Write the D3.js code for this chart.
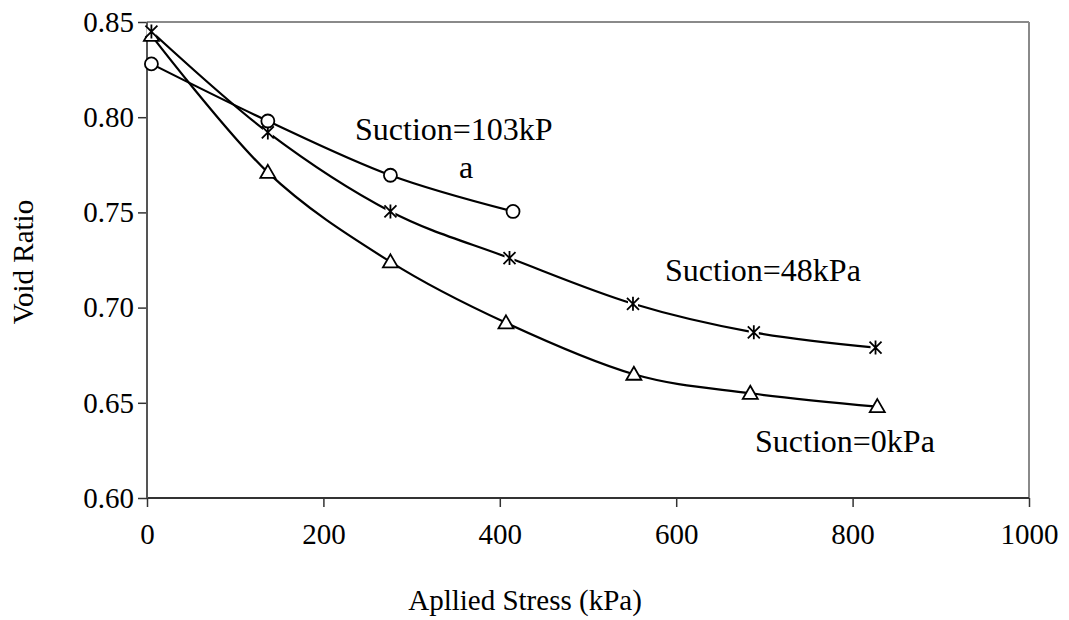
<!DOCTYPE html>
<html lang="en">

<head>
    <meta charset="UTF-8">
    <title>Void Ratio vs Applied Stress</title>
    <style>
        body {
            margin: 0;
            overflow: hidden;
            background: #fff;
        }

        svg {
            display: block;
        }

        svg text {
            font-family: "Liberation Serif", "Times New Roman", Times, "DejaVu Serif", serif !important;
            fill: black;
        }
    </style>
</head>

<body>
    <svg></svg>

    <script src="https://d3js.org/d3.v7.min.js"></script>
    <script>
        const width = 1069;
        const height = 620;
        const serif = '"Liberation Serif", "Times New Roman", Times, "DejaVu Serif", serif';

        // data (stress in kPa, void ratio)
        const stress0 = [5, 137, 276, 407, 552, 684, 828];
        const ratio0 = [0.843, 0.771, 0.724, 0.692, 0.665, 0.655, 0.648];

        const stress48 = [5, 137, 276, 411, 551, 688, 826];
        const ratio48 = [0.845, 0.792, 0.7505, 0.726, 0.702, 0.687, 0.679];

        const stress103 = [5, 137, 276, 415];
        const ratio103 = [0.828, 0.798, 0.7695, 0.7505];

        const xTicks = [0, 200, 400, 600, 800, 1000];
        const yTicks = [0.60, 0.65, 0.70, 0.75, 0.80, 0.85];

        const series = [
            { name: "Suction=0kPa", marker: "triangle", xs: stress0, ys: ratio0 },
            { name: "Suction=48kPa", marker: "star", xs: stress48, ys: ratio48 },
            { name: "Suction=103kPa", marker: "circle", xs: stress103, ys: ratio103 }
        ];

        const svg = d3.select("svg")
            .attr("width", width)
            .attr("height", height)
            .attr("font-family", serif);

        const x = d3.scaleLinear().domain([0, 1000]).range([147, 1029]);
        const y = d3.scaleLinear().domain([0.60, 0.85]).range([498, 22]);

        // frame: top and right in gray
        svg.append("line")
            .attr("x1", x(0)).attr("x2", x(1000))
            .attr("y1", y(0.85)).attr("y2", y(0.85))
            .attr("stroke", "#8a8a8a").attr("stroke-width", 2);
        svg.append("line")
            .attr("x1", x(1000)).attr("x2", x(1000))
            .attr("y1", y(0.85)).attr("y2", y(0.60))
            .attr("stroke", "#8a8a8a").attr("stroke-width", 2);

        // axes
        const xAxis = svg.append("g")
            .attr("transform", `translate(0,${y(0.60)})`)
            .call(d3.axisBottom(x).tickValues(xTicks).tickFormat(d3.format("d")).tickSize(9).tickPadding(16));

        const yAxis = svg.append("g")
            .attr("transform", `translate(${x(0)},0)`)
            .call(d3.axisLeft(y).tickValues(yTicks).tickFormat(d3.format(".2f")).tickSize(9).tickPadding(4));

        [xAxis, yAxis].forEach(g => {
            g.attr("font-family", serif).attr("font-size", 29);
            g.select(".domain").remove();
            g.selectAll(".tick line").attr("stroke", "#333").attr("stroke-width", 1.5);
            g.selectAll(".tick text")
                .style("font-family", serif)
                .style("font-size", "29px")
                .attr("fill", "black");
        });

        svg.append("line")
            .attr("x1", x(0)).attr("x2", x(1000))
            .attr("y1", y(0.60)).attr("y2", y(0.60))
            .attr("stroke", "#333").attr("stroke-width", 2);
        svg.append("line")
            .attr("x1", x(0)).attr("x2", x(0))
            .attr("y1", y(0.85)).attr("y2", y(0.60))
            .attr("stroke", "#555").attr("stroke-width", 2);

        // smoothed lines
        const line = d3.line()
            .x(d => x(d[0]))
            .y(d => y(d[1]))
            .curve(d3.curveCatmullRom.alpha(0));

        series.forEach(s => {
            const pts = s.xs.map((v, i) => [v, s.ys[i]]);
            svg.append("path")
                .datum(pts)
                .attr("fill", "none")
                .attr("stroke", "black")
                .attr("stroke-width", 2.2)
                .attr("d", line);
        });

        // markers
        const markerPath = {
            triangle: "M0,-7.5 L7.5,5.5 L-7.5,5.5 Z",
            star: "M0,-7 L0,7 M-6,-6 L6,6 M-6,6 L6,-6"
        };

        series.forEach(s => {
            const pts = s.xs.map((v, i) => [v, s.ys[i]]);
            const g = svg.append("g");
            if (s.marker === "circle") {
                g.selectAll("circle")
                    .data(pts)
                    .join("circle")
                    .attr("cx", d => x(d[0]))
                    .attr("cy", d => y(d[1]))
                    .attr("r", 6.5)
                    .attr("fill", "white")
                    .attr("stroke", "black")
                    .attr("stroke-width", 1.8);
            } else if (s.marker === "triangle") {
                g.selectAll("path")
                    .data(pts)
                    .join("path")
                    .attr("transform", d => `translate(${x(d[0])},${y(d[1])})`)
                    .attr("d", markerPath.triangle)
                    .attr("fill", "white")
                    .attr("stroke", "black")
                    .attr("stroke-width", 1.8);
            } else {
                g.selectAll("rect")
                    .data(pts)
                    .join("rect")
                    .attr("x", d => x(d[0]) - 5)
                    .attr("y", d => y(d[1]) - 5)
                    .attr("width", 10)
                    .attr("height", 10)
                    .attr("fill", "white");
                g.selectAll("path")
                    .data(pts)
                    .join("path")
                    .attr("transform", d => `translate(${x(d[0])},${y(d[1])})`)
                    .attr("d", markerPath.star)
                    .attr("fill", "none")
                    .attr("stroke", "black")
                    .attr("stroke-width", 1.8);
            }
        });

        // series labels
        const labels = [
            { text: "Suction=103kP", x: 355, y: 140 },
            { text: "a", x: 459, y: 178 },
            { text: "Suction=48kPa", x: 665, y: 281 },
            { text: "Suction=0kPa", x: 755, y: 452 }
        ];
        svg.append("g")
            .selectAll("text")
            .data(labels)
            .join("text")
            .attr("x", d => d.x)
            .attr("y", d => d.y)
            .attr("font-family", serif)
            .style("font-size", "32px")
            .text(d => d.text);

        // axis titles
        svg.append("text")
            .attr("x", 525)
            .attr("y", 610)
            .attr("font-family", serif)
            .style("text-anchor", "middle")
            .style("font-size", "29px")
            .text("Apllied Stress (kPa)");

        svg.append("text")
            .attr("transform", "translate(33,262) rotate(-90)")
            .attr("font-family", serif)
            .style("text-anchor", "middle")
            .style("font-size", "29px")
            .text("Void Ratio");
    </script>
</body>

</html>
